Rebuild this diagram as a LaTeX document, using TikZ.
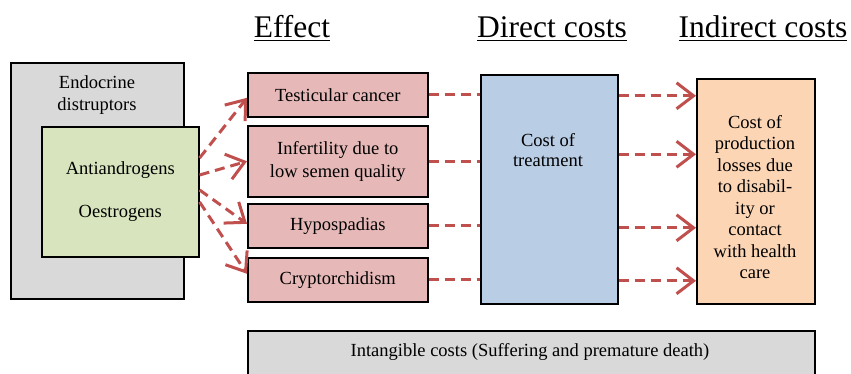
\documentclass[tikz,border=0pt]{standalone}
\usepackage{fontspec}
\setmainfont{Liberation Serif}
\usetikzlibrary{arrows.meta,calc}
\definecolor{grayfill}{HTML}{D9D9D9}
\definecolor{greenfill}{HTML}{D7E4BD}
\definecolor{pinkfill}{HTML}{E6B9B8}
\definecolor{bluefill}{HTML}{B9CDE5}
\definecolor{orangefill}{HTML}{FCD5B5}
\definecolor{arrowred}{HTML}{C0504D}
\begin{document}
\begin{tikzpicture}[x=1pt,y=-1pt,
 box/.style={draw=black, line width=1.6pt, inner sep=0pt, anchor=north west,
   font=\fontsize{18.5}{21.5}\selectfont, align=center},
 txt/.style={font=\fontsize{18.5}{21.5}\selectfont, align=center, inner sep=0pt},
 head/.style={font=\fontsize{31.5}{36}\selectfont, inner sep=0pt, anchor=base},
 dashline/.style={draw=arrowred, line width=3pt, dash pattern=on 10pt off 6pt},
 arr/.style={dashline, -{Straight Barb[length=17pt,width=26pt,line width=3pt]}}
]
\useasboundingbox (0,0) rectangle (851,374);

% headings
\node[head] (hEffect) at (292,38) {\underline{Effect}};
\node[head] (hDirect) at (552,38) {\underline{Direct costs}};
\node[head] (hIndirect) at (763,38) {\underline{Indirect costs}};

% boxes
\node[box, fill=grayfill, minimum width=173pt, minimum height=236pt] (endo) at (10,62) {};
\node[txt] (endotext) at (97,95) {Endocrine\\distruptors};
\node[box, fill=greenfill, minimum width=157pt, minimum height=130pt] (green) at (41,126)
  {Antiandrogens\\[21pt]Oestrogens};

\node[box, fill=pinkfill, minimum width=180pt, minimum height=44pt] (p1) at (247,72) {Testicular cancer};
\node[box, fill=pinkfill, minimum width=180pt, minimum height=71pt, font=\fontsize{18.5}{23}\selectfont] (p2) at (247,125) {Infertility due to\\low semen quality};
\node[box, fill=pinkfill, minimum width=180pt, minimum height=44pt] (p3) at (247,203) {Hypospadias};
\node[box, fill=pinkfill, minimum width=180pt, minimum height=44pt] (p4) at (247,257) {Cryptorchidism};

\node[box, fill=bluefill, minimum width=137pt, minimum height=229pt] (blue) at (480,74) {};
\node[txt, font=\fontsize{18.5}{20}\selectfont] (bluetext) at (548,150) {Cost of\\treatment};

\node[box, fill=orangefill, minimum width=118pt, minimum height=225pt] (orange) at (696,78) {};
\node[txt] (orangetext) at (755,197) {Cost of\\production\\losses due\\to disabil-\\ity or\\contact\\with health\\care};

\node[box, fill=grayfill, minimum width=567pt, minimum height=60pt] (intang) at (247,330) {};
\node[txt] (intangtext) at (530,352) {Intangible costs (Suffering and premature death)};

% arrows from green box to effects
\draw[arr] ([yshift=-32pt]green.north east) -- ([yshift=-3pt]p1.west);
\draw[arr] ([yshift=-49pt]green.north east) -- (p2.west);
\draw[arr] ([yshift=-64pt]green.north east) -- ([yshift=2pt]p3.west);
\draw[arr] ([yshift=-76pt]green.north east) -- ([yshift=6pt]p4.west);

% effects to direct costs
\draw[dashline] (p1.east) -- (p1.east -| blue.west);
\draw[dashline] (p2.east) -- (p2.east -| blue.west);
\draw[dashline] (p3.east) -- (p3.east -| blue.west);
\draw[dashline] (p4.east) -- (p4.east -| blue.west);

% direct to indirect
\coordinate (c1) at ([yshift=-1pt]p1.east);
\coordinate (c2) at ([yshift=7pt]p2.east);
\coordinate (c3) at ([yshift=-2pt]p3.east);
\coordinate (c4) at ([yshift=-1pt]p4.east);
\draw[arr] (c1 -| blue.east) -- (c1 -| orange.west);
\draw[arr] (c2 -| blue.east) -- (c2 -| orange.west);
\draw[arr] (c3 -| blue.east) -- (c3 -| orange.west);
\draw[arr] (c4 -| blue.east) -- (c4 -| orange.west);
\end{tikzpicture}
\end{document}
